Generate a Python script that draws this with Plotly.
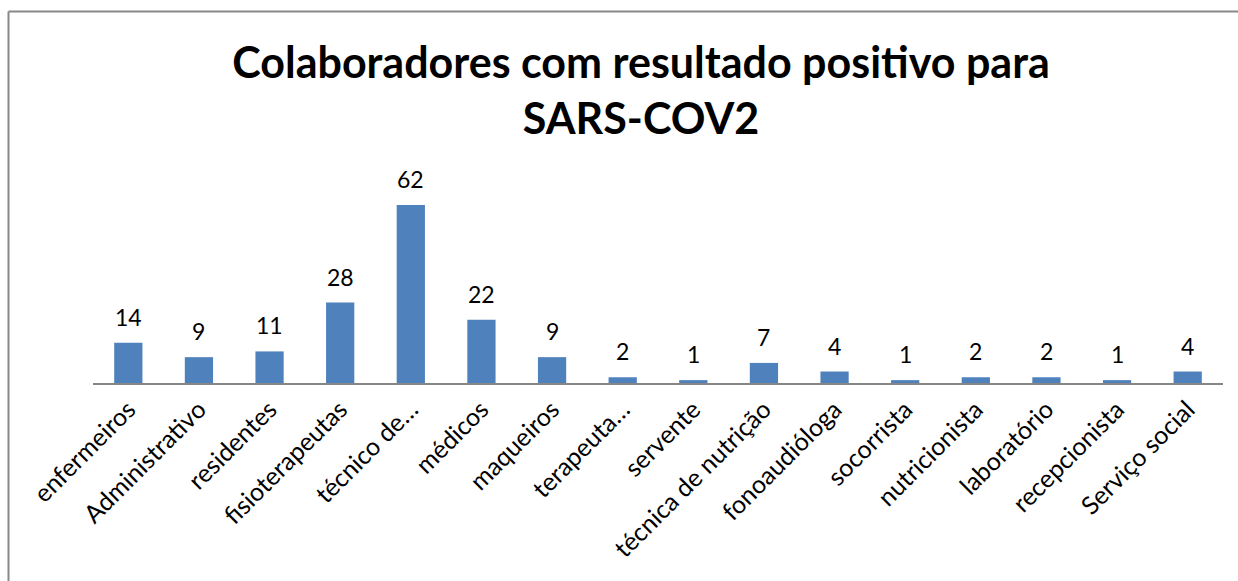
import plotly.graph_objects as go

categories = ["enfermeiros", "Administrativo", "residentes", "fisioterapeutas", "técnico de…",
              "médicos", "maqueiros", "terapeuta…", "servente", "técnica de nutrição",
              "fonoaudióloga", "socorrista", "nutricionista", "laboratório", "recepcionista",
              "Serviço social"]
values = [14, 9, 11, 28, 62, 22, 9, 2, 1, 7, 4, 1, 2, 2, 1, 4]

W, H = 1238, 581
L, R, T, B = 93, 15, 182, 198
pw, ph = W - L - R, H - T - B

fig = go.Figure(go.Bar(
    x=categories, y=values,
    marker=dict(color="#4F81BD", line=dict(width=0)),
    cliponaxis=False, width=0.4, hoverinfo="x+y",
))

annotations = [
    dict(x=c, y=v, xref="x", yref="y", text=str(v), showarrow=False,
         yanchor="bottom", yshift=10, font=dict(size=23, family="Lato", color="#000000"))
    for c, v in zip(categories, values)
]

def px(x):
    return (x - L) / pw

def py(y):
    return 1 - (y - T) / ph

fig.update_layout(
    width=W, height=H,
    margin=dict(l=L, r=R, t=T, b=B, autoexpand=False),
    paper_bgcolor="white", plot_bgcolor="white",
    font=dict(family="Lato", color="#000000"),
    title=dict(text="<b>Colaboradores com resultado positivo para<br>SARS-COV2</b>",
               x=641 / W, xanchor="center", y=1 - 78 / H, yanchor="top",
               font=dict(size=43, family="Lato", color="#000000")),
    showlegend=False,
    annotations=annotations,
    xaxis=dict(tickangle=-45, tickfont=dict(size=25, family="Lato", color="#000000"),
               showline=True, linecolor="#868686", linewidth=2, ticks="",
               showgrid=False, fixedrange=True, automargin=False),
    yaxis=dict(range=[0, 70], visible=False, showgrid=False, fixedrange=True),
    shapes=[
        dict(type="line", xref="paper", yref="paper", x0=px(8.5), x1=px(1240), y0=py(11.5), y1=py(11.5),
             line=dict(color="#888888", width=2)),
        dict(type="line", xref="paper", yref="paper", x0=px(8.5), x1=px(8.5), y0=py(11.5), y1=py(590),
             line=dict(color="#888888", width=2)),
    ],
)

fig.write_html("out.html", config={"displayModeBar": False},
               post_script="document.body.style.margin='0';document.body.style.overflow='hidden';")
